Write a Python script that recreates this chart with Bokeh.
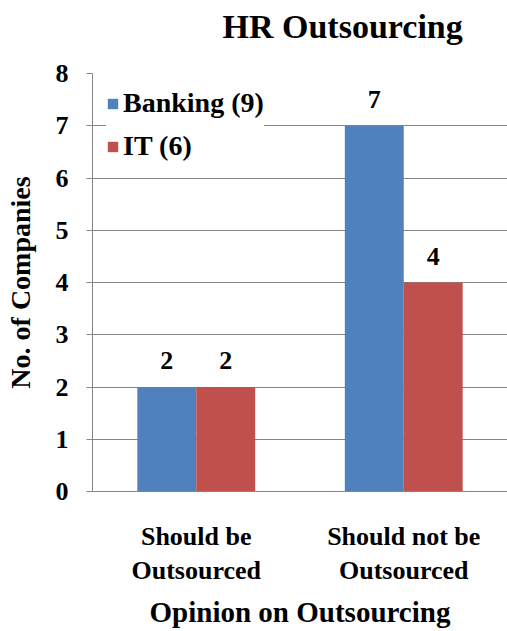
from bokeh.plotting import figure
from bokeh.layouts import column
from bokeh.models import (FactorRange, Range1d, ColumnDataSource, LabelSet, Label,
                          Legend, LegendItem, FixedTicker)
from bokeh.transform import dodge
from bokeh.embed import file_html
from bokeh.resources import INLINE

categories = ["Should be\nOutsourced", "Should not be\nOutsourced"]
banking = [2, 7]
it = [2, 4]
series_names = ["Banking (9)", "IT (6)"]
y_ticks = [0, 1, 2, 3, 4, 5, 6, 7, 8]
title_text = "HR Outsourcing"
x_title = "Opinion on Outsourcing"
y_title = "No. of Companies"

FONT = "Liberation Serif"
BLUE = "#4F81BD"
RED = "#C0504D"
GRID = "#868686"

HEAD_H = 55
LEFT = 92

# ---- title strip -------------------------------------------------------
head = figure(width=507, height=HEAD_H, output_backend="svg", toolbar_location=None,
              x_range=Range1d(0, 1), y_range=Range1d(0, 1),
              x_axis_location=None, y_axis_location=None,
              min_border_left=LEFT, min_border_right=0,
              min_border_top=0, min_border_bottom=0)
head.grid.visible = False
head.outline_line_color = None
head.background_fill_color = "white"
head.border_fill_color = "white"
head.add_layout(Label(x=130, y=29, x_units="screen", y_units="screen",
                      text=title_text, text_font=FONT, text_font_style="bold",
                      text_font_size="34px", text_color="black",
                      text_align="left", text_baseline="alphabetic"))

# ---- chart -------------------------------------------------------------
src = ColumnDataSource(dict(
    cat=categories,
    banking=banking,
    it=it,
    banking_lbl=[str(v) for v in banking],
    it_lbl=[str(v) for v in it],
))

p = figure(x_range=FactorRange(*categories, range_padding=0),
           y_range=Range1d(0, 8),
           width=507, height=631 - HEAD_H,
           output_backend="svg", toolbar_location=None,
           min_border_left=LEFT, min_border_right=0,
           min_border_top=73 - HEAD_H, min_border_bottom=140)

BW = 0.284
r1 = p.vbar(x=dodge("cat", -BW / 2, range=p.x_range), top="banking", width=BW,
            source=src, fill_color=BLUE, line_color=None)
r2 = p.vbar(x=dodge("cat", BW / 2, range=p.x_range), top="it", width=BW,
            source=src, fill_color=RED, line_color=None)

for xfield, off, tfield in [("banking", -BW / 2, "banking_lbl"), ("it", BW / 2, "it_lbl")]:
    p.add_layout(LabelSet(x=dodge("cat", off, range=p.x_range), y=xfield, text=tfield,
                          source=src, text_align="center", text_baseline="alphabetic",
                          y_offset=18, text_font=FONT, text_font_style="bold",
                          text_font_size="26px", text_color="black"))

legend = Legend(items=[LegendItem(label=series_names[0], renderers=[r1]),
                       LegendItem(label=series_names[1], renderers=[r2])],
                location="top_left")
legend.label_text_font = FONT
legend.label_text_font_style = "bold"
legend.label_text_font_size = "28px"
legend.label_text_color = "black"
legend.glyph_width = 13
legend.glyph_height = 13
legend.label_standoff = 4
legend.spacing = 11
legend.padding = 6
legend.margin = 14
legend.border_line_color = None
legend.background_fill_color = "white"
legend.background_fill_alpha = 1
p.add_layout(legend)

p.xgrid.grid_line_color = None
p.ygrid.grid_line_color = GRID
p.ygrid.grid_line_width = 1
p.outline_line_color = None
p.background_fill_color = "white"
p.border_fill_color = "white"

p.yaxis.ticker = FixedTicker(ticks=y_ticks)
p.yaxis.axis_line_color = GRID
p.yaxis.major_tick_line_color = GRID
p.yaxis.major_tick_out = 6
p.yaxis.major_tick_in = 0
p.yaxis.minor_tick_line_color = None
p.yaxis.major_label_standoff = 18
p.yaxis.major_label_text_font = FONT
p.yaxis.major_label_text_font_style = "bold"
p.yaxis.major_label_text_font_size = "26px"
p.yaxis.major_label_text_color = "black"
p.yaxis.axis_label = y_title
p.yaxis.axis_label_text_font = FONT
p.yaxis.axis_label_text_font_style = "bold"
p.yaxis.axis_label_text_font_size = "28px"
p.yaxis.axis_label_text_color = "black"
p.yaxis.axis_label_standoff = 17

p.xaxis.axis_line_color = GRID
p.xaxis.major_tick_line_color = None
p.xaxis.major_tick_out = 0
p.xaxis.major_tick_in = 0
p.xaxis.major_label_standoff = 30
p.xaxis.major_label_text_font = FONT
p.xaxis.major_label_text_font_style = "bold"
p.xaxis.major_label_text_font_size = "26px"
p.xaxis.major_label_text_color = "black"
p.xaxis.axis_label = x_title
p.xaxis.axis_label_text_font = FONT
p.xaxis.axis_label_text_font_style = "bold"
p.xaxis.axis_label_text_font_size = "29px"
p.xaxis.axis_label_text_color = "black"
p.xaxis.axis_label_standoff = 8

layout = column(head, p, spacing=0)
open("out.html", "w").write(file_html(layout, INLINE))
